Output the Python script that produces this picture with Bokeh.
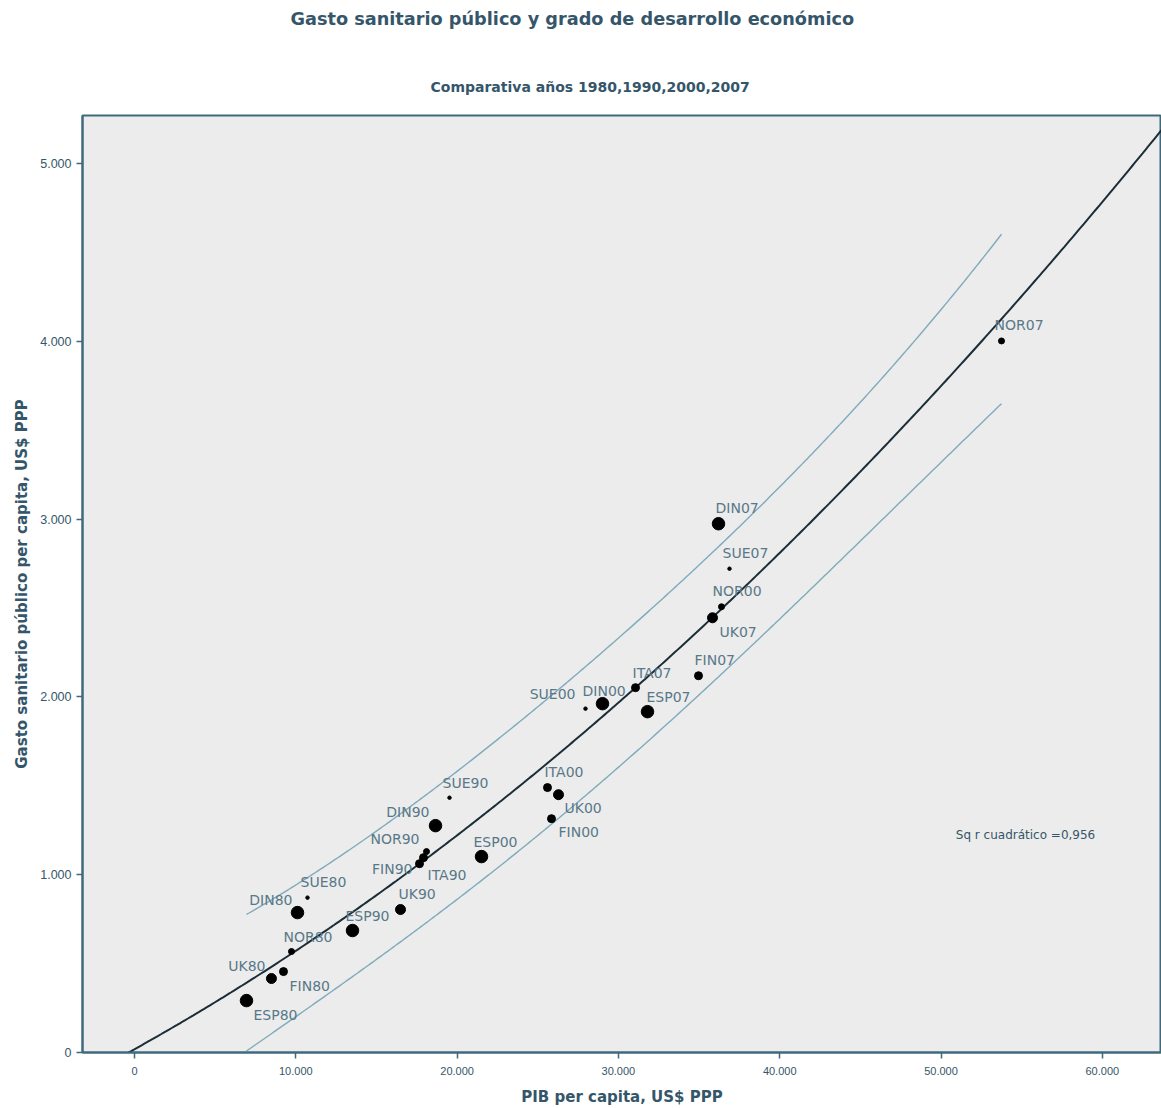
import numpy as np
from bokeh.plotting import figure
from bokeh.models import ColumnDataSource, Label, Range1d, FixedTicker, Title
from bokeh.core.properties import value
from bokeh.embed import file_html
from bokeh.resources import INLINE

# ---------------- data ----------------
paises = ["ESP80", "UK80", "FIN80", "NOR80", "DIN80", "SUE80",
          "ESP90", "UK90", "NOR90", "FIN90", "ITA90", "DIN90", "SUE90",
          "ESP00", "ITA00", "UK00", "FIN00", "SUE00", "DIN00", "NOR00",
          "ITA07", "ESP07", "FIN07", "DIN07", "SUE07", "UK07", "NOR07"]
pib = [6943, 8490, 9237, 9733, 10105, 10725,
       13515, 16491, 18103, 17917, 17669, 18661, 19529,
       21513, 25604, 26286, 25852, 27960, 29014, 36392,
       31060, 31804, 34966, 36206, 36888, 35834, 53751]
gasto = [292, 416, 455, 568, 787, 871,
         686, 804, 1130, 1096, 1062, 1276, 1433,
         1102, 1490, 1450, 1315, 1934, 1962, 2507,
         2052, 1917, 2119, 2974, 2721, 2445, 4002]
# size class of each point (third variable shown by dot size)
clase = [5, 4, 3, 2, 5, 1,
         5, 4, 2, 3, 3, 5, 1,
         5, 3, 4, 3, 1, 5, 2,
         3, 5, 3, 5, 1, 4, 2]
# quadratic fit: y = a + b*x + c*x^2
fit_coef = [18.6, 0.0505, 4.82e-7]
resid_se = 170.0          # residual standard error of the fit
t975 = 2.064              # t(0.975, df=24) for the 95% prediction band
x_ticks = [0, 10000, 20000, 30000, 40000, 50000, 60000]
x_tick_labels = ["0", "10.000", "20.000", "30.000", "40.000", "50.000", "60.000"]
y_ticks = [0, 1000, 2000, 3000, 4000, 5000]
y_tick_labels = ["0", "1.000", "2.000", "3.000", "4.000", "5.000"]
title_text = "Gasto sanitario público y grado de desarrollo económico"
subtitle_text = "Comparativa años 1980,1990,2000,2007"
r2_text = "Sq r cuadrático =0,956"

# ---------------- styles ----------------
size_px = {1: 3.5, 2: 6, 3: 8, 4: 10, 5: 12.5}
# label placement: (align, dx, dy) in screen pixels
lab_pos = {
    "ESP80": ("left", 7, 14), "UK80": ("right", -6, -13), "FIN80": ("left", 6, 14),
    "NOR80": ("left", -8, -15), "DIN80": ("right", -5, -13), "SUE80": ("left", -7, -16),
    "ESP90": ("left", -7, -15), "UK90": ("left", -2, -16), "NOR90": ("right", -7, -13),
    "FIN90": ("right", -11, 11), "ITA90": ("left", 8, 11), "DIN90": ("right", -6, -14),
    "SUE90": ("left", -7, -15), "ESP00": ("left", -8, -15), "ITA00": ("left", -3, -16),
    "UK00": ("left", 6, 13), "FIN00": ("left", 7, 13), "SUE00": ("right", -10, -15),
    "DIN00": ("left", -20, -13), "NOR00": ("left", -9, -16), "ITA07": ("left", -3, -15),
    "ESP07": ("left", -1, -15), "FIN07": ("left", -4, -16), "DIN07": ("left", -3, -16),
    "SUE07": ("left", -7, -16), "UK07": ("left", 7, 14), "NOR07": ("left", -7, -16),
}
FONT = "Liberation Sans"
WIDE = "DejaVu Sans"
AXIS_COL = "#3f6a7d"
TEXT_COL = "#35566a"
LABEL_COL = "#587888"
BAND_COL = "#7faabd"
FIT_COL = "#1b2e38"

# ---------------- fit curve & prediction band ----------------
x = np.array(pib, dtype=float)
X = np.column_stack([np.ones_like(x), x, x ** 2])
XtX_inv = np.linalg.inv(X.T @ X)
a, b, c = fit_coef

x_lo, x_hi = -3224, 63670
xg = np.linspace(x_lo, x_hi, 400)
yg = a + b * xg + c * xg ** 2
xb = np.linspace(x.min(), x.max(), 300)
Xb = np.column_stack([np.ones_like(xb), xb, xb ** 2])
yb = a + b * xb + c * xb ** 2
hb = np.einsum("ij,jk,ik->i", Xb, XtX_inv, Xb)
half = t975 * resid_se * np.sqrt(1 + hb)
upper = yb + half
lower = yb - half

# ---------------- figure ----------------
p = figure(width=1161, height=1108, output_backend="svg", toolbar_location=None,
           x_range=Range1d(x_lo, x_hi), y_range=Range1d(0, 5270),
           min_border_left=82, min_border_right=0, min_border_top=115,
           min_border_bottom=55, background_fill_color="#ececec",
           border_fill_color="white")
p.outline_line_color = AXIS_COL
p.outline_line_width = 2
p.grid.visible = False

# titles: subtitle next to the frame, a blank spacer, then the main title
p.add_layout(Title(text=subtitle_text, align="left", offset=348, text_font=WIDE,
                   text_font_size="14px", text_font_style="bold",
                   text_color=TEXT_COL, standoff=41), "above")
p.add_layout(Title(text=" ", text_font=WIDE, text_font_size="10px", standoff=9), "above")
p.add_layout(Title(text=title_text, align="left", offset=208, text_font=WIDE,
                   text_font_size="17.7px", text_font_style="bold",
                   text_color=TEXT_COL, standoff=11), "above")

for ax in (p.xaxis, p.yaxis):
    ax.axis_line_color = AXIS_COL
    ax.axis_line_width = 2
    ax.major_tick_line_color = AXIS_COL
    ax.major_tick_line_width = 1.5
    ax.major_tick_out = 6
    ax.major_tick_in = 0
    ax.minor_tick_line_color = None
    ax.major_label_text_font = FONT
    ax.major_label_text_color = TEXT_COL
    ax.axis_label_text_font = WIDE
    ax.axis_label_text_font_style = "bold"
    ax.axis_label_text_font_size = "15px"
    ax.axis_label_text_color = TEXT_COL
p.xaxis.major_label_text_font_size = "11px"
p.yaxis.major_label_text_font_size = "12.5px"
p.xaxis.major_label_standoff = 8

p.xaxis.ticker = FixedTicker(ticks=x_ticks)
p.xaxis.major_label_overrides = dict(zip(x_ticks, x_tick_labels))
p.yaxis.ticker = FixedTicker(ticks=y_ticks)
p.yaxis.major_label_overrides = dict(zip(y_ticks, y_tick_labels))
p.xaxis.axis_label = "PIB per capita, US$ PPP"
p.yaxis.axis_label = "Gasto sanitario público per capita, US$ PPP"
p.xaxis.axis_label_standoff = 10
p.yaxis.axis_label_standoff = 6

p.line(xb, upper, line_color=BAND_COL, line_width=1.4)
p.line(xb, lower, line_color=BAND_COL, line_width=1.4)
p.line(xg, yg, line_color=FIT_COL, line_width=2)

src = ColumnDataSource(dict(
    x=pib, y=gasto, name=paises,
    size=[size_px[k] for k in clase],
    align=[lab_pos[k][0] for k in paises],
    dx=[lab_pos[k][1] for k in paises],
    dy=[lab_pos[k][2] for k in paises],
))
p.scatter("x", "y", size="size", source=src, fill_color="black", line_color="black")
p.text("x", "y", text="name", source=src, x_offset="dx", y_offset="dy",
       text_align="align", text_baseline="middle", text_font=value(WIDE),
       text_font_size="14px", text_color=LABEL_COL)

p.add_layout(Label(x=55240, y=1225, text=r2_text, text_align="center",
                   text_baseline="middle", text_font=WIDE, text_font_size="12px",
                   text_color=TEXT_COL))

open("out.html", "w").write(file_html(p, INLINE))
